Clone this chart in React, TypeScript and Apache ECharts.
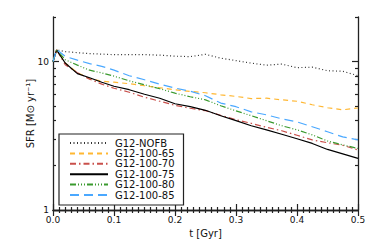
import React, { useEffect, useRef } from "react";
import * as echarts from "echarts";

const TIMES = [0, 0.006, 0.02, 0.04, 0.06, 0.08, 0.1, 0.125, 0.15, 0.175, 0.2, 0.225, 0.25, 0.275, 0.3, 0.325, 0.35, 0.375, 0.4, 0.425, 0.45, 0.475, 0.5];

const NOFB = [10.0, 12.0, 11.68, 11.5, 11.33, 11.24, 11.15, 11.15, 11.15, 11.06, 10.89, 10.81, 11.2, 10.56, 10.16, 9.77, 9.47, 9.62, 9.11, 9.18, 8.69, 8.62, 8.04];
const R65 = [10.0, 12.0, 9.8, 8.43, 7.67, 7.38, 7.27, 7.1, 6.88, 6.67, 6.47, 6.3, 6.17, 5.98, 5.83, 5.64, 5.67, 5.53, 5.41, 5.12, 4.89, 4.74, 4.87];
const R70 = [10.0, 12.0, 9.54, 8.43, 7.62, 7.05, 6.62, 6.22, 5.76, 5.41, 5.08, 4.85, 4.67, 4.35, 4.06, 3.84, 3.61, 3.42, 3.19, 2.97, 2.84, 2.73, 2.54];
const R75 = [10.0, 12.0, 9.8, 8.3, 7.79, 7.27, 6.83, 6.47, 6.03, 5.67, 5.2, 4.97, 4.7, 4.32, 4.0, 3.7, 3.47, 3.24, 3.02, 2.81, 2.56, 2.39, 2.23];
const R80 = [10.0, 12.0, 10.31, 9.47, 8.76, 8.39, 7.98, 7.43, 6.99, 6.57, 6.13, 5.8, 5.53, 5.04, 4.66, 4.32, 4.0, 3.7, 3.47, 3.21, 2.92, 2.75, 2.6];
const R85 = [10.0, 12.05, 10.86, 10.23, 9.69, 9.3, 8.76, 8.04, 7.55, 7.05, 6.64, 6.32, 5.89, 5.26, 4.97, 4.59, 4.38, 4.12, 3.93, 3.64, 3.37, 3.11, 2.97];

const SERIES_NAMES = ["G12-NOFB", "G12-100-65", "G12-100-70", "G12-100-75", "G12-100-80", "G12-100-85"];
const SERIES_VALUES = [NOFB, R65, R70, R75, R80, R85];

const X_TICKS = [0, 0.1, 0.2, 0.3, 0.4, 0.5];
const Y_RANGE = [1, 20];
const Y_MAJOR = [1, 10];
const Y_MINOR = [2, 3, 4, 5, 6, 7, 8, 9, 20];

const STYLES = [
  { color: "#333333", dash: [1, 2.5] },
  { color: "#FFB732", dash: [5, 4] },
  { color: "#C9504B", dash: [6, 3, 1.5, 3] },
  { color: "#000000", dash: "solid" as any },
  { color: "#3A9A2E", dash: [6, 2, 1, 2, 1, 2, 1, 2] },
  { color: "#4AA8FF", dash: [9, 5] },
];

const FONT = "DejaVu Sans";
const lg = (v: number) => Math.log10(v);

export default function App() {
  const ref = useRef<HTMLDivElement>(null);
  useEffect(() => {
    if (!ref.current) return;
    const chart = echarts.init(ref.current, undefined, { renderer: "svg" });
    const axisLine = { show: true, lineStyle: { color: "#222", width: 1.3, opacity: 1 } };
    const tickStyle = { color: "#222", width: 1.2, opacity: 1 };
    const xBase = (pos: "bottom" | "top", labels: boolean) => ({
      type: "value",
      position: pos,
      min: X_TICKS[0],
      max: X_TICKS[X_TICKS.length - 1],
      interval: 0.1,
      axisLine,
      axisTick: { show: true, inside: true, length: 6, lineStyle: tickStyle },
      minorTick: { show: true, splitNumber: 10, length: 3, lineStyle: tickStyle },
      splitLine: { show: false },
      axisLabel: {
        show: labels,
        formatter: (v: number) => v.toFixed(1),
        fontSize: 9,
        fontFamily: FONT,
        color: "#111",
        margin: 5,
      },
      ...(labels
        ? {
            name: "t [Gyr]",
            nameLocation: "middle",
            nameGap: 16,
            nameTextStyle: { fontSize: 10, fontFamily: FONT, color: "#111" },
          }
        : {}),
    });
    const yBase = (pos: "left" | "right", major: boolean, labels: boolean) => ({
      type: "value",
      position: pos,
      min: lg(Y_RANGE[0]),
      max: lg(Y_RANGE[1]),
      axisLine: major ? axisLine : { show: false },
      axisTick: {
        show: true,
        inside: true,
        length: major ? 6 : 3,
        customValues: (major ? Y_MAJOR : Y_MINOR).map(lg),
        lineStyle: tickStyle,
      },
      splitLine: { show: false },
      axisLabel: {
        show: labels,
        customValues: Y_MAJOR.map(lg),
        formatter: (v: number) => String(Math.round(Math.pow(10, v))),
        fontSize: 9,
        fontFamily: FONT,
        color: "#111",
        margin: 4,
      },
      ...(labels
        ? {
            name: "SFR [M⊙ yr⁻¹]",
            nameLocation: "middle",
            nameGap: 18,
            nameMoveOverlap: false,
            nameTextStyle: { fontSize: 10, fontFamily: FONT, color: "#111" },
          }
        : {}),
    });

    chart.setOption({
      animation: false,
      backgroundColor: "#ffffff",
      grid: { left: 53, right: 16, top: 17, bottom: 35 },
      xAxis: [xBase("bottom", true), xBase("top", false)],
      yAxis: [
        yBase("left", true, true),
        yBase("left", false, false),
        yBase("right", true, false),
        yBase("right", false, false),
      ],
      legend: {
        orient: "vertical",
        left: 59,
        top: 134,
        padding: [4, 9, 5, 10],
        itemWidth: 38,
        itemHeight: 8,
        itemGap: 0.4,
        backgroundColor: "#ffffff",
        borderColor: "#222",
        borderWidth: 1.2,
        borderRadius: 0,
        selectedMode: false,
        itemStyle: { opacity: 0 },
        textStyle: { fontSize: 10, lineHeight: 8, fontFamily: FONT, color: "#111", padding: [0, 0, 0, 2] },
        data: SERIES_NAMES,
      },
      series: SERIES_NAMES.map((name, i) => ({
        name,
        type: "line",
        xAxisIndex: 0,
        yAxisIndex: 0,
        symbol: "none",
        showSymbol: false,
        smooth: false,
        data: TIMES.map((t, k) => [t, lg(SERIES_VALUES[i][k])]),
        lineStyle: { color: STYLES[i].color, width: 1.2, type: STYLES[i].dash },
        itemStyle: { color: STYLES[i].color },
        z: 2 + i,
      })),
    });
    return () => chart.dispose();
  }, []);
  return (
    <div
      ref={ref}
      style={{ position: "fixed", left: 0, top: 0, width: 374, height: 245, background: "#fff" }}
    />
  );
}
